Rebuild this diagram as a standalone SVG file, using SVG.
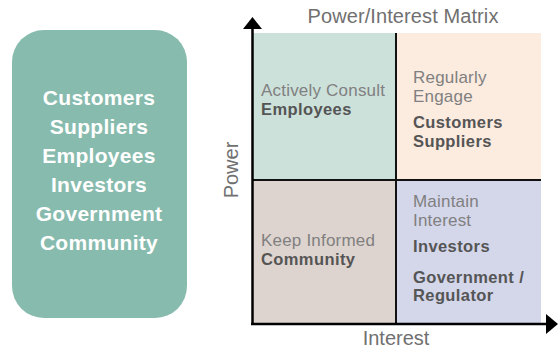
<svg xmlns="http://www.w3.org/2000/svg" width="560" height="349" viewBox="0 0 560 349">
<style>
.list{font-family:"Liberation Sans",Arial,sans-serif;font-weight:bold;font-size:21px;fill:#fff;text-anchor:middle;letter-spacing:0.3px}
.lbl{font-family:"Liberation Sans",Arial,sans-serif;font-size:17px;fill:#808080;letter-spacing:0.2px}
.b{font-weight:bold;fill:#555;font-size:16.5px;letter-spacing:0.4px}
.axis{font-family:"Liberation Sans",Arial,sans-serif;font-size:20px;fill:#707070}
.div{stroke:#111;stroke-width:2;fill:none}
</style>
<rect width="560" height="349" fill="#fff"/>
<g id="stakeholders">
<rect x="12" y="30" width="175" height="288" rx="32" fill="#87BBAE"/>
<text class="list" x="99" y="105">Customers</text>
<text class="list" x="99" y="134">Suppliers</text>
<text class="list" x="99" y="163">Employees</text>
<text class="list" x="99" y="192">Investors</text>
<text class="list" x="99" y="221">Government</text>
<text class="list" x="99" y="250">Community</text>
</g>
<g id="q-actively-consult">
<rect x="252" y="33" width="144" height="147" fill="#CDE1DB"/>
<text class="lbl" x="261" y="96">Actively Consult</text>
<text class="lbl b" x="261" y="115">Employees</text>
</g>
<g id="q-regularly-engage">
<rect x="396" y="33" width="145" height="147" fill="#FCEBDF"/>
<text class="lbl" x="413" y="83">Regularly</text>
<text class="lbl" x="413" y="102">Engage</text>
<text class="lbl b" x="413" y="128">Customers</text>
<text class="lbl b" x="413" y="147">Suppliers</text>
</g>
<g id="q-keep-informed">
<rect x="252" y="180" width="144" height="144" fill="#DED4CF"/>
<text class="lbl" x="261" y="246">Keep Informed</text>
<text class="lbl b" x="261" y="265">Community</text>
</g>
<g id="q-maintain-interest">
<rect x="396" y="180" width="145" height="144" fill="#D4D6EA"/>
<text class="lbl" x="413" y="207">Maintain</text>
<text class="lbl" x="413" y="226">Interest</text>
<text class="lbl b" x="413" y="252">Investors</text>
<text class="lbl b" x="413" y="283">Government /</text>
<text class="lbl b" x="413" y="301">Regulator</text>
</g>
<g id="connectors">
<line class="div" x1="396" y1="33" x2="396" y2="324"/>
<line class="div" x1="252" y1="180" x2="541" y2="180"/>
<line x1="252.5" y1="26" x2="252.5" y2="325" stroke="#000" stroke-width="2.5"/>
<line x1="251" y1="324" x2="549" y2="324" stroke="#000" stroke-width="2.5"/>
<polygon points="252.5,17 243,29 262,29" fill="#000"/>
<polygon points="558,324 546,314 546,334" fill="#000"/>
</g>
<g id="titles">
<text class="axis" x="403" y="23" text-anchor="middle" letter-spacing="0.1">Power/Interest Matrix</text>
<text class="axis" x="396" y="345" text-anchor="middle">Interest</text>
<text class="axis" transform="translate(238,170) rotate(-90)" text-anchor="middle">Power</text>
</g>
</svg>
